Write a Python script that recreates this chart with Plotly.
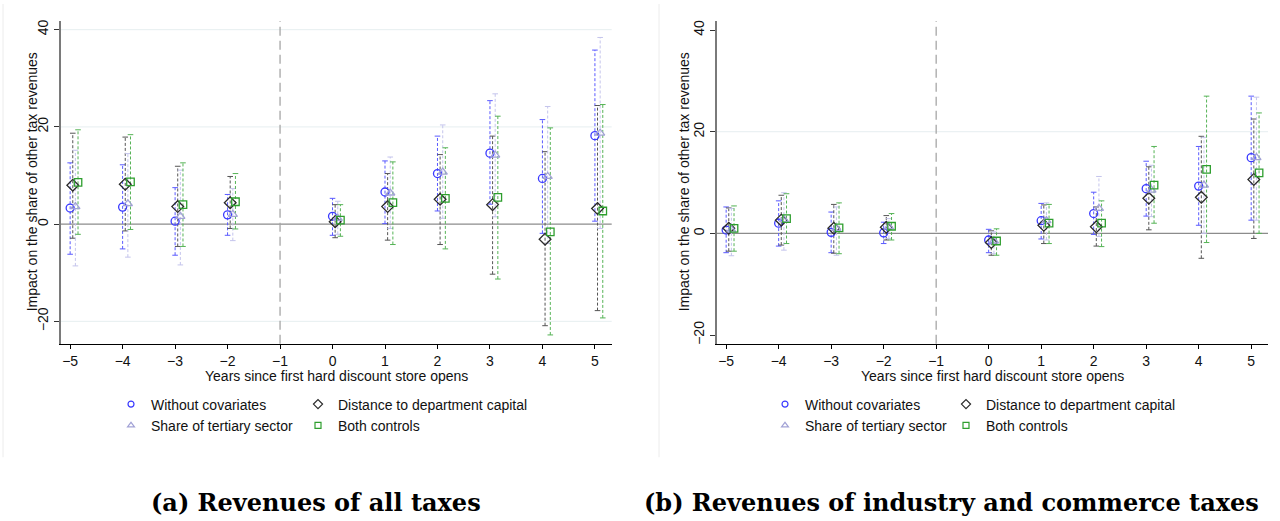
import plotly.graph_objects as go

# ---------------- data ----------------
YEARS = [-5, -4, -3, -2, 0, 1, 2, 3, 4, 5]
SERIES = ["Without covariates", "Distance to department capital",
          "Share of tertiary sector", "Both controls"]
OFFSETS = [0.0, 0.05, 0.10, 0.15]

# Panel (a): Revenues of all taxes
A_NOCOV_EST = [3.3, 3.5, 0.6, 1.9, 1.6, 6.6, 10.4, 14.6, 9.4, 18.2]
A_NOCOV_LO = [-6.2, -5.1, -6.4, -2.3, -2.3, 0.1, 2.7, 4.1, -1.9, 0.6]
A_NOCOV_HI = [12.6, 12.2, 7.5, 6.1, 5.3, 13.0, 18.1, 25.4, 21.5, 35.8]
A_DIST_EST = [8.0, 8.2, 3.6, 4.4, 0.5, 3.6, 5.1, 4.0, -3.1, 3.2]
A_DIST_LO = [-2.9, -1.4, -4.6, -0.9, -2.8, -3.3, -4.2, -10.3, -20.9, -17.8]
A_DIST_HI = [18.7, 17.9, 11.9, 9.8, 4.0, 10.4, 14.3, 18.1, 14.9, 24.4]
A_TERT_EST = [3.6, 4.2, 1.6, 2.0, 1.2, 6.4, 10.7, 14.2, 9.8, 18.7]
A_TERT_LO = [-8.6, -6.8, -8.4, -3.4, -2.1, -0.9, 1.2, 1.5, -4.0, -0.9]
A_TERT_HI = [15.2, 14.5, 11.1, 7.3, 4.7, 13.8, 20.4, 26.8, 24.2, 38.4]
A_BOTH_EST = [8.6, 8.7, 4.0, 4.6, 0.8, 4.4, 5.3, 5.5, -1.6, 2.7]
A_BOTH_LO = [-2.1, -1.1, -4.6, -1.0, -2.5, -4.2, -5.1, -11.3, -22.8, -19.3]
A_BOTH_HI = [19.4, 18.4, 12.6, 10.4, 4.0, 12.8, 15.7, 22.2, 19.8, 24.6]

# Panel (b): Revenues of industry and commerce taxes
B_NOCOV_EST = [0.65, 2.0, 0.2, 0.1, -1.3, 2.5, 3.9, 8.8, 9.3, 14.9]
B_NOCOV_LO = [-3.8, -2.5, -3.8, -2.0, -3.8, -1.1, -0.2, 3.4, 1.6, 2.6]
B_NOCOV_HI = [5.2, 6.4, 4.2, 2.2, 0.8, 5.9, 8.1, 14.2, 17.1, 27.0]
B_DIST_EST = [1.0, 2.6, 1.0, 1.2, -1.8, 1.6, 1.3, 6.9, 7.1, 10.6]
B_DIST_LO = [-3.5, -2.3, -3.9, -1.3, -4.3, -2.0, -2.5, 0.7, -4.9, -1.0]
B_DIST_HI = [5.0, 7.5, 5.7, 3.5, 0.5, 5.6, 5.2, 13.1, 19.1, 22.5]
B_TERT_EST = [0.7, 2.7, 1.0, 1.3, -1.5, 2.5, 4.9, 8.5, 9.5, 14.9]
B_TERT_LO = [-4.4, -3.3, -4.3, -1.0, -4.0, -1.3, -0.6, 3.3, 0.0, 2.6]
B_TERT_HI = [4.9, 8.0, 5.2, 2.9, 0.3, 6.0, 11.2, 13.4, 18.9, 26.8]
B_BOTH_EST = [1.0, 2.9, 1.1, 1.4, -1.5, 2.0, 2.0, 9.5, 12.6, 11.9]
B_BOTH_LO = [-3.5, -2.0, -4.0, -1.3, -4.3, -2.0, -2.6, 2.0, -1.8, 0.0]
B_BOTH_HI = [5.4, 7.8, 6.0, 3.9, 0.9, 5.7, 6.4, 17.1, 27.0, 23.7]

X_TICKS = [-5, -4, -3, -2, -1, 0, 1, 2, 3, 4, 5]
Y_TICKS = [-20, 0, 20, 40]
GRID_A = [-20, 20, 40]
GRID_B = [20]
EVENT_YEAR = -1

X_TITLE = "Years since first hard discount store opens"
Y_TITLE = "Impact on the share of other tax revenues"
CAPTION_A = "(a) Revenues of all taxes"
CAPTION_B = "(b) Revenues of industry and commerce taxes"

# ---------------- styles ----------------
MARKERS = ["circle-open", "diamond-open", "triangle-up-open", "square-open"]
MSIZE = [8, 9, 8, 7.5]
LEG_MSIZE = [6, 7, 6, 6]
MCOLORS = ["#3a3aff", "#2b2b2b", "#a3a3d6", "#2e9e2e"]
CICOLORS = ["#5a5aff", "#555555", "#c4c4ec", "#55b355"]

W, H = 1280, 521
FONT = "Liberation Sans, Arial, sans-serif"
FS = 14


def px_x(p):
    return p / W


def px_y(p):
    return 1 - p / H


panels = [
    dict(xa="x", ya="y", xdom=[px_x(60.7), px_x(611.7)], yrange=[-24.6, 41.8],
         data=[(A_NOCOV_EST, A_NOCOV_LO, A_NOCOV_HI), (A_DIST_EST, A_DIST_LO, A_DIST_HI),
               (A_TERT_EST, A_TERT_LO, A_TERT_HI), (A_BOTH_EST, A_BOTH_LO, A_BOTH_HI)],
         grid=GRID_A, legends=["legend", "legend2"], legx=[111, 298]),
    dict(xa="x2", ya="y2", xdom=[px_x(716.7), px_x(1268)], yrange=[-21.7, 41.8],
         data=[(B_NOCOV_EST, B_NOCOV_LO, B_NOCOV_HI), (B_DIST_EST, B_DIST_LO, B_DIST_HI),
               (B_TERT_EST, B_TERT_LO, B_TERT_HI), (B_BOTH_EST, B_BOTH_LO, B_BOTH_HI)],
         grid=GRID_B, legends=["legend3", "legend4"], legx=[765, 946]),
]
XRANGE = [-5.18, 5.32]
YDOM = [px_y(344), px_y(20)]

fig = go.Figure()
shapes = []
annotations = []

for pi, P in enumerate(panels):
    for g in P["grid"]:
        shapes.append(dict(type="line", xref=f"{P['xa']} domain", yref=P["ya"],
                           x0=0, x1=1, y0=g, y1=g, layer="below",
                           line=dict(color="#e6eef0", width=1)))
    shapes.append(dict(type="line", xref=f"{P['xa']} domain", yref=P["ya"],
                       x0=0, x1=1, y0=0, y1=0, layer="below",
                       line=dict(color="#8c8c8c", width=1.3)))
    shapes.append(dict(type="line", xref=P["xa"], yref=f"{P['ya']} domain",
                       x0=EVENT_YEAR, x1=EVENT_YEAR, y0=0, y1=1, layer="below",
                       line=dict(color="#a6a6a6", width=1.3, dash="9px,5px")))

    for si in range(4):
        est, lo, hi = P["data"][si]
        xs, ys = [], []
        for yr, l, h in zip(YEARS, lo, hi):
            xs += [yr + OFFSETS[si], yr + OFFSETS[si], None]
            ys += [l, h, None]
        fig.add_trace(go.Scatter(
            x=xs, y=ys, mode="lines+markers", xaxis=P["xa"], yaxis=P["ya"],
            line=dict(color=CICOLORS[si], width=1, dash="3px,2px"),
            marker=dict(symbol="line-ew", size=4, color=CICOLORS[si],
                        line=dict(color=CICOLORS[si], width=1)),
            showlegend=False, hoverinfo="skip"))
    for si in range(4):
        est, lo, hi = P["data"][si]
        fig.add_trace(go.Scatter(
            x=[yr + OFFSETS[si] for yr in YEARS], y=est, mode="markers",
            xaxis=P["xa"], yaxis=P["ya"], name=SERIES[si],
            marker=dict(symbol=MARKERS[si], size=MSIZE[si], color=MCOLORS[si],
                        line=dict(color=MCOLORS[si], width=1.3)),
            showlegend=False))
    # legend entries (smaller keys, as in the reference)
    for si in range(4):
        fig.add_trace(go.Scatter(
            x=[None], y=[None], mode="markers", xaxis=P["xa"], yaxis=P["ya"],
            name=SERIES[si],
            marker=dict(symbol=MARKERS[si], size=LEG_MSIZE[si], color=MCOLORS[si],
                        line=dict(color=MCOLORS[si], width=1.2)),
            legend=P["legends"][0] if si in (0, 2) else P["legends"][1],
            legendrank=si, showlegend=True))

    cx = (P["xdom"][0] + P["xdom"][1]) / 2
    annotations.append(dict(text=X_TITLE, x=cx, y=px_y(376), xref="paper", yref="paper",
                            showarrow=False, font=dict(family=FONT, size=FS, color="#111"),
                            xanchor="center", yanchor="middle"))
    annotations.append(dict(text=Y_TITLE, x=px_x(32 if pi == 0 else 684), y=px_y(182),
                            xref="paper", yref="paper", textangle=-90, showarrow=False,
                            font=dict(family=FONT, size=FS, color="#111"),
                            xanchor="center", yanchor="middle"))

for cap, cxp in [(CAPTION_A, 316), (CAPTION_B, 951)]:
    annotations.append(dict(text="<b>" + cap + "</b>", x=px_x(cxp), y=px_y(503),
                            xref="paper", yref="paper", showarrow=False,
                            font=dict(family="DejaVu Serif, serif", size=24, color="#000"),
                            xanchor="center", yanchor="middle"))

for fx in [3, 659]:
    shapes.append(dict(type="line", xref="paper", yref="paper",
                       x0=px_x(fx), x1=px_x(fx), y0=px_y(458), y1=px_y(3),
                       line=dict(color="#ececec", width=1)))

axis_common_x = dict(range=XRANGE, tickvals=X_TICKS, ticks="outside", ticklen=4,
                     tickcolor="#000", showline=True, linecolor="#000", linewidth=1.3,
                     showgrid=False, zeroline=False,
                     tickfont=dict(family=FONT, size=FS, color="#111"))
axis_common_y = dict(tickvals=Y_TICKS, ticks="outside", ticklen=5, tickcolor="#333",
                     showline=True, linecolor="#7a7a7a", linewidth=1.6,
                     showgrid=False, zeroline=False, tickangle=-90,
                     tickfont=dict(family=FONT, size=FS, color="#111"))

legend_common = dict(orientation="v", bgcolor="rgba(0,0,0,0)", borderwidth=0,
                     font=dict(family=FONT, size=FS, color="#111"),
                     xanchor="left", yanchor="top", itemclick=False,
                     tracegroupgap=0)

layout = dict(
    width=W, height=H, margin=dict(l=0, r=0, t=0, b=0),
    paper_bgcolor="white", plot_bgcolor="white",
    xaxis=dict(domain=panels[0]["xdom"], anchor="y", **axis_common_x),
    yaxis=dict(domain=YDOM, anchor="x", range=panels[0]["yrange"], **axis_common_y),
    xaxis2=dict(domain=panels[1]["xdom"], anchor="y2", **axis_common_x),
    yaxis2=dict(domain=YDOM, anchor="x2", range=panels[1]["yrange"], **axis_common_y),
    shapes=shapes, annotations=annotations,
)
legend_names = ["legend", "legend2", "legend3", "legend4"]
legend_x = [panels[0]["legx"][0], panels[0]["legx"][1], panels[1]["legx"][0], panels[1]["legx"][1]]
for name, lx in zip(legend_names, legend_x):
    layout[name] = dict(x=px_x(lx), y=px_y(389), **legend_common)

fig.update_layout(**layout)
fig.write_html("out.html", config={"displayModeBar": False},
               post_script="document.body.style.margin='0';")
